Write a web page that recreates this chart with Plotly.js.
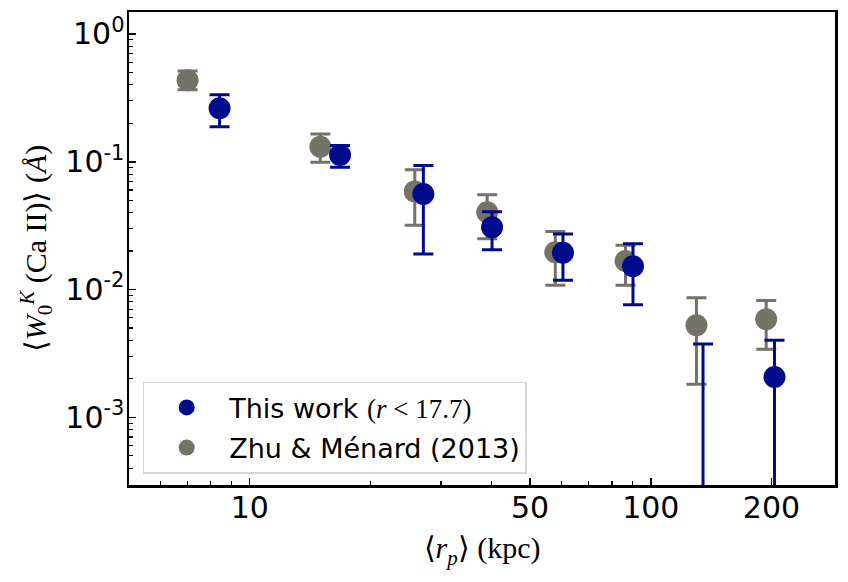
<!DOCTYPE html>
<html>
<head>
<meta charset="utf-8">
<script src="https://cdn.plot.ly/plotly-3.0.1.min.js"></script>
<style>html,body{margin:0;padding:0;background:#fff;}#chart{width:848px;height:582px;}</style>
</head>
<body>
<div id="chart"></div>
<script>
// "This work (r < 17.7)"  (7th point: central value below the plotted range)
const workX  = [8.41, 16.8, 27.1, 40.2, 60.4, 90.3, 135, 203.5];
const workY  = [0.262, 0.113, 0.0559, 0.0307, 0.0194, 0.0152, 0.0001, 0.00207];
const workHi = [0.334, 0.134, 0.0934, 0.0407, 0.0272, 0.0228, 0.00375, 0.00401];
const workLo = [0.188, 0.0907, 0.0190, 0.0205, 0.0118, 0.00761, -0.006, -0.004];

// "Zhu & Ménard (2013)"
const zhuX  = [7.0, 15.0, 25.8, 39.1, 57.8, 86.5, 130, 194];
const zhuY  = [0.435, 0.131, 0.0586, 0.0402, 0.0196, 0.0167, 0.00525, 0.00585];
const zhuHi = [0.512, 0.165, 0.0865, 0.0552, 0.0285, 0.0222, 0.00863, 0.00822];
const zhuLo = [0.366, 0.0993, 0.0318, 0.0250, 0.0108, 0.0108, 0.00181, 0.00341];

const xTickVals = [10, 50, 100, 200];
const xTickText = ['10', '50', '100', '200'];
const xMinorVals = [6, 7, 8, 9, 20, 30, 40, 60, 70, 80, 90];
const yTickVals = [1, 0.1, 0.01, 0.001];
const yTickText = ['10<sup>0</sup>', '10<sup>-1</sup>', '10<sup>-2</sup>', '10<sup>-3</sup>'];
const yMinorMant = [2, 3, 4, 5, 6, 7, 8, 9];
const yMinorDecades = [0.0001, 0.001, 0.01, 0.1];

const yMinorVals = [];
yMinorDecades.forEach(d => yMinorMant.forEach(m => yMinorVals.push(m * d)));

const plus = (y, hi) => y.map((v, i) => hi[i] - v);
const minus = (y, lo) => y.map((v, i) => v - lo[i]);

const BLUE = '#000b8c';
const GRAY = '#757268';

const traces = [
  {
    type: 'scatter', mode: 'markers', name: 'Zhu &amp; Ménard (2013)',
    x: zhuX, y: zhuY, legendrank: 2, legendgroup: 'b',
    marker: {color: GRAY, size: 22},
    error_y: {type: 'data', symmetric: false, array: plus(zhuY, zhuHi), arrayminus: minus(zhuY, zhuLo),
              color: GRAY, thickness: 3, width: 10},
    cliponaxis: true
  },
  {
    type: 'scatter', mode: 'markers', name: 'This work <span style="font-family:\'Liberation Serif\'">(<i>r</i> &lt; 17.7)</span>',
    x: workX, y: workY, legendrank: 1, legendgroup: 'a',
    marker: {color: BLUE, size: 22},
    error_y: {type: 'data', symmetric: false, array: plus(workY, workHi), arrayminus: minus(workY, workLo),
              color: BLUE, thickness: 3, width: 10},
    cliponaxis: true
  }
];

const layout = {
  width: 848, height: 582,
  margin: {l: 129, r: 13, t: 12, b: 96.5},
  paper_bgcolor: '#fff', plot_bgcolor: '#fff',
  font: {family: 'DejaVu Sans', size: 26, color: '#000'},
  showlegend: true,
  legend: {
    x: 0.0194, y: 0.218, xanchor: 'left', yanchor: 'top',
    bgcolor: 'rgba(255,255,255,0.85)', bordercolor: '#d5d5d5', borderwidth: 1.5,
    font: {family: 'DejaVu Sans', size: 27, color: '#000'},
    traceorder: 'grouped', tracegroupgap: 2, itemwidth: 75
  },
  xaxis: {
    type: 'log', range: [Math.log10(5), Math.log10(288)],
    tickvals: xTickVals, ticktext: xTickText,
    ticks: 'inside', ticklen: 7, tickwidth: 1.5, tickcolor: '#000',
    minor: {tickvals: xMinorVals, ticks: 'inside', ticklen: 4, tickwidth: 1.2, tickcolor: '#000', showgrid: false},
    showgrid: false, zeroline: false,
    showline: true, mirror: true, linecolor: '#000', linewidth: 2.5,
    tickfont: {family: 'DejaVu Sans', size: 30, color: '#000'},
    ticklabelstandoff: -6,
    title: {text: '⟨<i>r</i><sub><i>p</i></sub>⟩ (kpc)', font: {family: 'Liberation Serif', size: 30, color: '#000'}, standoff: 14}
  },
  yaxis: {
    type: 'log', range: [-3.53, 0.172],
    tickvals: yTickVals, ticktext: yTickText,
    ticks: 'inside', ticklen: 7, tickwidth: 1.5, tickcolor: '#000',
    minor: {tickvals: yMinorVals, ticks: 'inside', ticklen: 4, tickwidth: 1.2, tickcolor: '#000', showgrid: false},
    showgrid: false, zeroline: false,
    showline: true, mirror: true, linecolor: '#000', linewidth: 2.5,
    tickfont: {family: 'DejaVu Sans', size: 30, color: '#000'},
    ticklabelstandoff: -4,
    title: {text: '⟨<i>W</i><sub>0</sub><sup><i>K</i></sup> (Ca II)⟩ (<i>Å</i>)', font: {family: 'Liberation Serif', size: 30, color: '#000'}, standoff: 10}
  }
};

Plotly.newPlot('chart', traces, layout, {displayModeBar: false, staticPlot: true});
</script>
</body>
</html>
